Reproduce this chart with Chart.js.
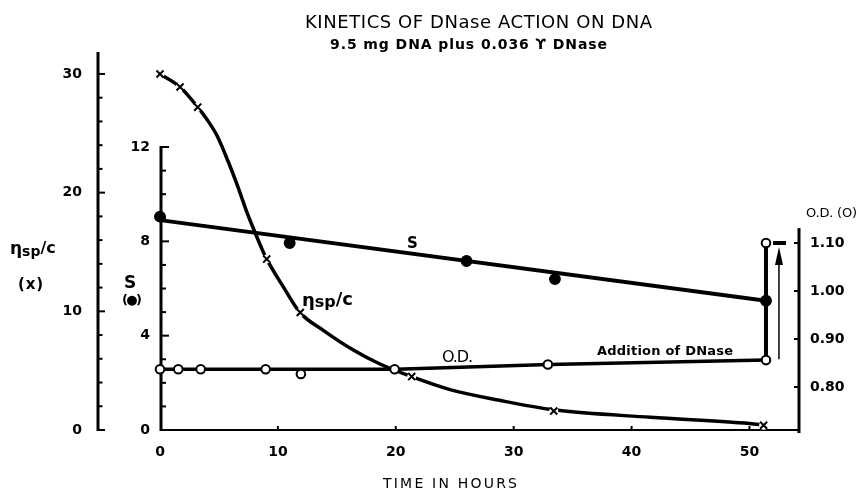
<!DOCTYPE html>
<html><head><meta charset="utf-8">
<script src="https://cdn.jsdelivr.net/npm/chart.js@4/dist/chart.umd.min.js"></script>
<style>html,body{margin:0;padding:0;background:#fff;}#wrap{width:861px;height:492px;}</style>
</head><body><div id="wrap"><canvas id="c" width="861" height="492"></canvas></div>
<script>
// ---- data ----
const etaTimes  = [0, 1.7, 3.2, 9.05, 11.9, 21.35, 33.4, 51.2];
const etaValues = [30, 28.9, 27.2, 14.4, 9.9, 4.5, 1.6, 0.4];
const etaCurveTimes  = [0, 1.7, 3.2, 3.96, 4.81, 5.79, 6.64, 7.35, 7.91, 8.76, 9.05, 10.5, 11.87, 13.85, 16.4, 18.66, 21.35, 24.6, 28.8, 33.4, 41.6, 50.0, 51.2];
const etaCurveValues = [30, 28.9, 27.2, 26.2, 24.85, 22.6, 20.4, 18.4, 17.0, 15.0, 14.4, 12.0, 9.9, 8.4, 6.74, 5.56, 4.49, 3.4, 2.5, 1.7, 1.07, 0.55, 0.42];
const sTimes  = [0, 11.0, 26.0, 33.5, 51.4];
const sValues = [9.05, 7.93, 7.17, 6.40, 5.48];
const sLineTimes  = [0, 51.4];
const sLineValues = [8.9, 5.48];
const odTimes  = [0, 1.55, 3.45, 8.96, 11.95, 19.9, 32.9, 51.4, 51.4];
const odValues = [0.837, 0.837, 0.837, 0.837, 0.827, 0.837, 0.847, 0.856, 1.10];
const odLineTimes  = [0, 20, 33, 51.4];
const odLineValues = [0.837, 0.837, 0.847, 0.856];
const additionTimes  = [51.4, 51.4];
const additionValues = [0.856, 1.10];
const plateauTimes  = [52.0, 53.1];
const plateauValues = [1.10, 1.10];
const arrowTimes  = [52.5, 52.5];
const arrowValues = [0.858, 1.073];
const xTicks = [0, 10, 20, 30, 40, 50];
const etaTicks = [0, 10, 20, 30];
const etaMinorTicks = [2, 4, 6, 8, 12, 14, 16, 18, 22, 24, 26, 28];
const sTicks = [0, 4, 8, 12];
const sMinorTicks = [1, 2, 3, 5, 6, 7, 9, 10, 11];
const odTicks = [0.80, 0.90, 1.00, 1.10];
const sAxisRange = [0, 12];
const odAxisRange = [0.704, 1.131];

const pts = (xs, ys) => xs.map((x, i) => ({x, y: ys[i]}));
const FONT = "'DejaVu Sans', sans-serif";
Chart.defaults.font.family = FONT;
Chart.defaults.color = '#000';

const arrowHead = document.createElement('canvas');
arrowHead.width = 8; arrowHead.height = 18;
(function(){const a = arrowHead.getContext('2d'); a.fillStyle='#000'; a.beginPath(); a.moveTo(4,0); a.lineTo(8,18); a.lineTo(0,18); a.closePath(); a.fill();})();

const setTicks = arr => scale => { scale.ticks = arr.map(v => ({value: v})); };

function fitText(ctx, s, x0, x1, y, size, bold) {
  ctx.save();
  ctx.font = (bold ? 'bold ' : '') + size + 'px ' + FONT;
  ctx.fillStyle = '#000'; ctx.textAlign = 'left'; ctx.textBaseline = 'alphabetic';
  const w = ctx.measureText(s).width;
  const n = [...s].length;
  if (n > 1) ctx.letterSpacing = ((x1 - x0 - w) / (n - 1)) + 'px';
  ctx.fillText(s, x0, y);
  ctx.restore();
}
function seq(ctx, parts, x, bold) {
  for (const [t, size, y] of parts) {
    ctx.save();
    ctx.font = (bold ? 'bold ' : '') + size + 'px ' + FONT;
    ctx.fillStyle = '#000'; ctx.textBaseline = 'alphabetic';
    ctx.fillText(t, x, y);
    x += ctx.measureText(t).width;
    ctx.restore();
  }
}

const axesPlugin = {
  id: 'axesPlugin',
  beforeDatasetsDraw(chart) {
    const {ctx, chartArea, scales} = chart;
    const {x, eta, s, od} = scales;
    ctx.save();
    ctx.strokeStyle = '#000';
    const L = (x0, y0, x1, y1, w) => { ctx.lineWidth = w; ctx.beginPath(); ctx.moveTo(x0, y0); ctx.lineTo(x1, y1); ctx.stroke(); };
    const ex = eta.right;
    L(ex, eta.getPixelForValue(eta.max), ex, eta.getPixelForValue(0) + 1, 3);
    etaTicks.forEach(v => { const y = eta.getPixelForValue(v); L(ex, y, ex + 7, y, 2); });
    etaMinorTicks.forEach(v => { const y = eta.getPixelForValue(v); L(ex, y, ex + 4.5, y, 2); });
    const sx = s.right + 1;
    L(sx, s.getPixelForValue(sAxisRange[1]) - 1, sx, s.getPixelForValue(sAxisRange[0]) + 1, 3);
    sTicks.forEach(v => { const y = s.getPixelForValue(v); L(sx, y, sx + 8, y, 2); });
    sMinorTicks.forEach(v => { const y = s.getPixelForValue(v); L(sx, y, sx + 5, y, 2); });
    const ox = od.left;
    L(ox, od.getPixelForValue(odAxisRange[1]), ox, od.getPixelForValue(odAxisRange[0]), 3);
    odTicks.forEach(v => { const y = od.getPixelForValue(v); L(ox, y, ox - 5, y, 2); });
    const by = chartArea.bottom;
    L(x.getPixelForValue(0), by, ox + 1, by, 2);
    xTicks.forEach(v => { if (v === 0) return; const px = x.getPixelForValue(v); L(px, by, px, by - 4, 2); });
    ctx.restore();
  },
  afterDraw(chart) {
    const ctx = chart.ctx;
    fitText(ctx, 'KINETICS OF DNase ACTION ON DNA', 305, 652, 28, 18, false);
    fitText(ctx, '9.5 mg DNA plus 0.036 \u03D2 DNase', 330, 607, 49, 14, true);
    seq(ctx, [['\u03B7', 17, 254], ['sp', 14, 256], ['/c', 16, 253]], 10, true);
    fitText(ctx, '(x)', 18, 43, 289, 15, true);
    fitText(ctx, 'S', 124, 137, 288, 17, true);
    fitText(ctx, '(\u25CF)', 122, 142, 304, 13, true);
    fitText(ctx, 'O.D. (O)', 806, 857, 217, 13, false);
    fitText(ctx, 'S', 407, 417, 248, 15, true);
    seq(ctx, [['\u03B7', 18, 306], ['sp', 16, 307], ['/c', 18, 305]], 302, true);
    fitText(ctx, 'O.D.', 442, 473, 362, 16, false);
    fitText(ctx, 'Addition of DNase', 597, 733, 355, 13, true);
    fitText(ctx, 'TIME IN HOURS', 383, 517, 488, 14, false);
  }
};

const lineDs = (data, axis, w, extra) => Object.assign({
  type: 'line', data, yAxisID: axis, borderColor: '#000', borderWidth: w,
  pointRadius: 0, showLine: true, fill: false, clip: false,
  borderCapStyle: 'round', borderJoinStyle: 'round'
}, extra || {});

new Chart(document.getElementById('c'), {
  type: 'scatter',
  data: { datasets: [
    { label: 'O.D.', data: pts(odTimes, odValues), yAxisID: 'od', pointStyle: 'circle', pointRadius: 4.3,
      pointBorderWidth: 2, pointBackgroundColor: '#fff', pointBorderColor: '#000', showLine: false, clip: false },
    { label: 'S', data: pts(sTimes, sValues), yAxisID: 's', pointStyle: 'circle', pointRadius: 5.2,
      pointBorderWidth: 1.5, pointBackgroundColor: '#000', pointBorderColor: '#000', showLine: false, clip: false },
    { label: 'eta', data: pts(etaTimes, etaValues), yAxisID: 'eta', pointStyle: 'crossRot', pointRadius: 5,
      pointBorderWidth: 2, pointBorderColor: '#000', showLine: false, clip: false },
    { label: 'eta gap', data: pts(etaTimes, etaValues), yAxisID: 'eta', pointStyle: 'circle', pointRadius: 4.5,
      pointBorderWidth: 0, pointBackgroundColor: '#fff', pointBorderColor: '#fff', showLine: false, clip: false },
    lineDs(pts(etaCurveTimes, etaCurveValues), 'eta', 3.5, { cubicInterpolationMode: 'monotone' }),
    lineDs(pts(sLineTimes, sLineValues), 's', 4),
    lineDs(pts(odLineTimes, odLineValues), 'od', 3.5),
    lineDs(pts(additionTimes, additionValues), 'od', 4),
    lineDs(pts(plateauTimes, plateauValues), 'od', 4, { borderCapStyle: 'butt' }),
    lineDs(pts(arrowTimes, arrowValues), 'od', 1.5, { pointRadius: [0, 1], pointStyle: ['circle', arrowHead], borderCapStyle: 'butt' })
  ]},
  options: {
    responsive: false, animation: false, events: [],
    layout: { padding: { top: 52, left: 0, right: 0, bottom: 0 } },
    plugins: { legend: { display: false }, tooltip: { enabled: false } },
    scales: {
      x: { type: 'linear', position: 'bottom', min: 0, max: 54.2,
        afterBuildTicks: setTicks(xTicks), afterFit: sc => { sc.height = 62; },
        grid: { display: false, drawTicks: false }, border: { display: false },
        ticks: { padding: 14, font: { size: 14, weight: 'bold' }, color: '#000', maxRotation: 0 } },
      eta: { type: 'linear', position: 'left', weight: 1, min: 0, max: 31.85,
        afterBuildTicks: setTicks(etaTicks), afterFit: sc => { sc.width = 98; },
        grid: { display: false, drawTicks: false }, border: { display: false },
        ticks: { padding: 16, font: { size: 14, weight: 'bold' }, color: '#000' } },
      s: { type: 'linear', position: 'left', weight: 0, min: 0, max: 16.03,
        afterBuildTicks: setTicks(sTicks), afterFit: sc => { sc.width = 62; },
        grid: { display: false, drawTicks: false }, border: { display: false },
        ticks: { padding: 10, font: { size: 14, weight: 'bold' }, color: '#000' } },
      od: { type: 'linear', position: 'right', min: 0.7104, max: 1.498,
        afterBuildTicks: setTicks(odTicks), afterFit: sc => { sc.width = 62; },
        grid: { display: false, drawTicks: false }, border: { display: false },
        ticks: { padding: 11, font: { size: 14, weight: 'bold' }, color: '#000', callback: v => Number(v).toFixed(2) } }
    }
  },
  plugins: [axesPlugin]
});
</script></body></html>
